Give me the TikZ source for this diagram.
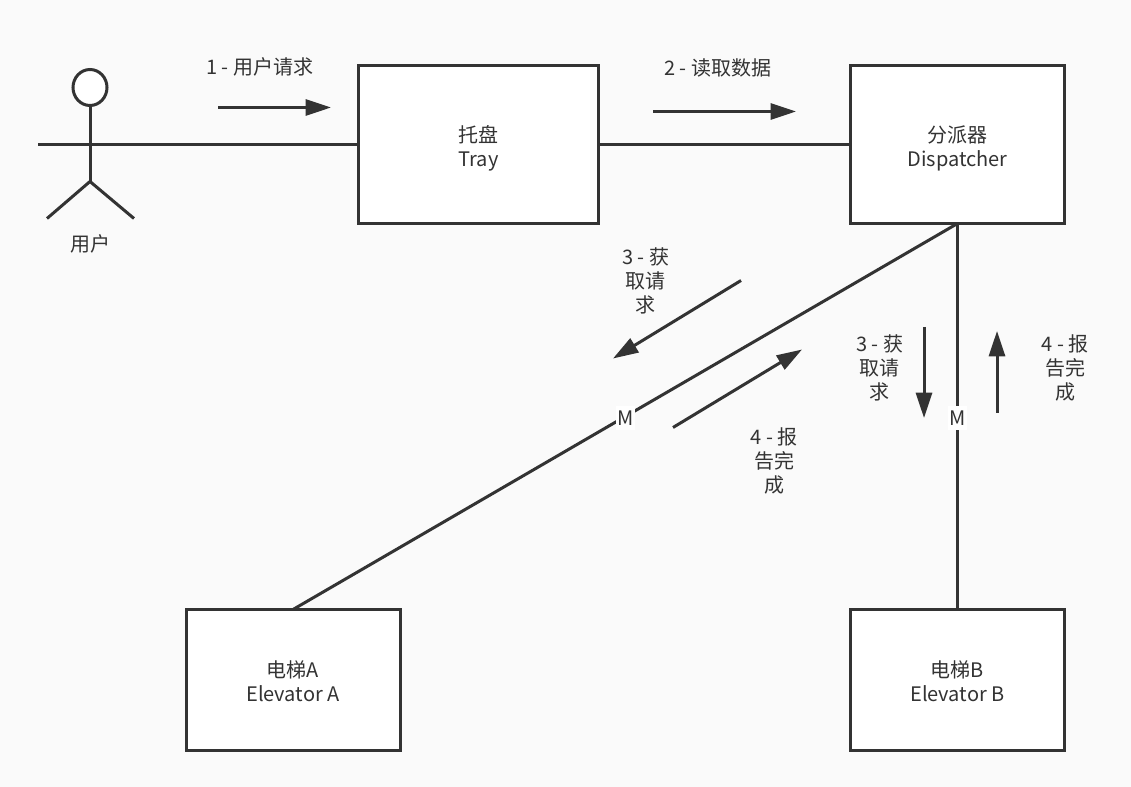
\documentclass[tikz,border=0pt]{standalone}
\usepackage{fontspec}
\setmainfont{Noto Sans CJK SC}
\usepackage{xcolor}
\usetikzlibrary{positioning,arrows.meta,shapes.geometric}
\definecolor{ink}{HTML}{333333}
\definecolor{paper}{HTML}{FAFAFA}
\begin{document}
\begin{tikzpicture}[x=0.75pt, y=-0.75pt, line width=2.25pt, draw=ink, text=ink,
  every node/.style={font=\fontsize{15}{18}\selectfont, align=center},
  block/.style={rectangle, draw=ink, fill=white, outer sep=0pt, minimum width=#1*0.75pt},
  msg/.style={-{Triangle[length=19pt, width=12pt]}, draw=ink},
  mlabel/.style={fill=white, inner sep=0pt, minimum width=14pt, minimum height=18pt, yshift=-1pt}]
\fill[paper] (0,0) rectangle (1131,787);
\node[block=240, minimum height=118.5pt, label={[yshift=-3pt]center:托盘\\Tray}] (tray) at (478.5,144.5) {};
\node[block=214, minimum height=118.5pt, label={[yshift=-3pt]center:分派器\\Dispatcher}] (disp) at (957.5,144.5) {};
\node[block=214, minimum height=105.75pt, label={[yshift=-1.2pt]center:电梯A\\Elevator A}] (elevA) at (293,680) {};
\node[block=214, minimum height=105.75pt, label={[yshift=-1.2pt]center:电梯B\\Elevator B}] (elevB) at (957.5,680) {};
% user figure
\node[ellipse, draw=ink, fill=white, minimum width=25.5pt, minimum height=27pt, inner sep=0pt, outer sep=0pt] (head) at (90,87.5) {};
\coordinate (hip) at (90,181.5);
\coordinate (handL) at (38,144.5);
\node[inner sep=0pt] (user) at (90,244) {用户};
\draw (head.south) -- (hip);
\draw (hip) -- (47,218.5);
\draw (hip) -- (134,218.5);
\draw (handL) -- (tray.west);
\draw (tray.east) -- (disp.west);
\draw (disp.south) -- node[mlabel] (mA) {M} (elevA.north);
\draw (disp.south) -- node[mlabel] (mB) {M} (elevB.north);
% message arrows
\coordinate (a1s) at (218,107.5); \coordinate (a1e) at (331,107.5);
\coordinate (a2s) at (653,111.5); \coordinate (a2e) at (796,111.5);
\coordinate (a3s) at (741,280.5); \coordinate (a3e) at (613,358.5);
\coordinate (a4s) at (673,427.5); \coordinate (a4e) at (802,349.5);
\coordinate (a5s) at (924,327); \coordinate (a5e) at (924,418);
\coordinate (a6s) at (997,413); \coordinate (a6e) at (997,331);
\foreach \i in {1,...,6} \draw[msg] (a\i s) -- (a\i e);
\node (t1) at (259.5,67) {1 - 用户请求};
\node (t2) at (717.5,68) {2 - 读取数据};
\node (t3) at (645.5,281) {3 - 获\\取请\\求};
\node (t4) at (774,461) {4 - 报\\告完\\成};
\node (t5) at (879.5,368) {3 - 获\\取请\\求};
\node (t6) at (1065,368) {4 - 报\\告完\\成};
\end{tikzpicture}
\end{document}
